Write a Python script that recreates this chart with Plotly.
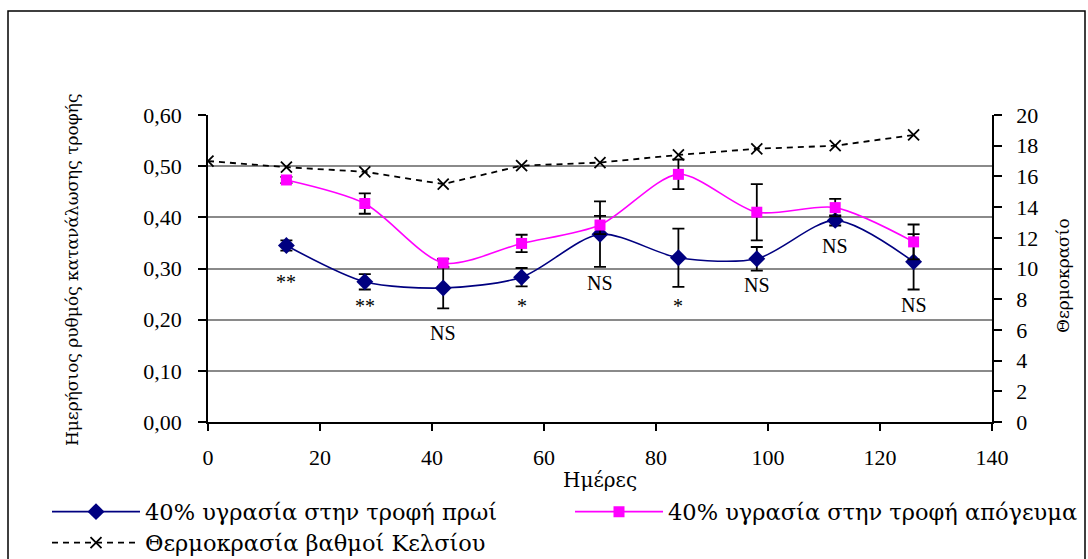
import plotly.graph_objects as go

# ---- data ----
days = [14, 28, 42, 56, 70, 84, 98, 112, 126]
morning = [0.345, 0.274, 0.262, 0.283, 0.367, 0.321, 0.319, 0.394, 0.313]
morning_err = [0.010, 0.015, 0.040, 0.018, 0.064, 0.057, 0.023, 0.010, 0.054]
evening = [0.473, 0.427, 0.311, 0.349, 0.385, 0.484, 0.410, 0.419, 0.352]
evening_err = [0.006, 0.020, 0.008, 0.017, 0.018, 0.029, 0.055, 0.017, 0.034]
temp_days = [0, 14, 28, 42, 56, 70, 84, 98, 112, 126]
temperature = [17.0, 16.6, 16.3, 15.5, 16.7, 16.9, 17.4, 17.8, 18.0, 18.7]
significance = ["**", "**", "NS", "*", "NS", "*", "NS", "NS", "NS"]

name_morning = "40% υγρασία στην τροφή πρωί"
name_evening = "40% υγρασία στην τροφή απόγευμα"
name_temp = "Θερμοκρασία βαθμοί Κελσίου"

# ---- layout helpers ----
W, H = 1088, 559
L, R, T, B = 208, 96, 115, 137
pw, ph = W - L - R, H - T - B


def px_x(p):
    return (p - L) / pw


def px_y(p):
    return (H - B - p) / ph


FONT = "Liberation Serif"      # digits / latin labels
GREEK = "DejaVu Serif"         # serif face with Greek coverage
sig_label_y = [0.273, 0.227, 0.174, 0.227, 0.271, 0.227, 0.268, 0.344, 0.229]

err_style = dict(type="data", color="black", thickness=1.8, width=6)

fig = go.Figure()
fig.add_trace(go.Scatter(
    x=days, y=morning, name=name_morning, mode="lines+markers",
    line=dict(color="#000080", width=1.6, shape="spline", smoothing=0.8),
    marker=dict(symbol="diamond", size=13, color="#000080"),
    error_y=dict(array=morning_err, **err_style),
    legend="legend",
))
fig.add_trace(go.Scatter(
    x=days, y=evening, name=name_evening, mode="lines+markers",
    line=dict(color="#FF00FF", width=1.6, shape="spline", smoothing=0.8),
    marker=dict(symbol="square", size=11, color="#FF00FF"),
    error_y=dict(array=evening_err, **err_style),
    legend="legend2",
))
fig.add_trace(go.Scatter(
    x=temp_days, y=temperature, name=name_temp, mode="lines+markers",
    line=dict(color="black", width=1.8, dash="6px,5px"),
    marker=dict(symbol="x-thin", size=11, line=dict(color="black", width=1.8)),
    yaxis="y2", legend="legend3",
))

annotations = [
    dict(x=d, y=y, text=s, xref="x", yref="y", showarrow=False,
         font=dict(family=FONT, size=20, color="black"))
    for d, y, s in zip(days, sig_label_y, significance)
]
title_common = dict(xref="paper", yref="paper", showarrow=False,
                    xanchor="center", yanchor="middle")
annotations += [
    dict(x=px_x(72), y=px_y(270), text="Ημερήσιος ρυθμός κατανάλωσης τροφής",
         textangle=-90, font=dict(family=GREEK, size=17, color="black"),
         **title_common),
    dict(x=px_x(1063), y=px_y(276), text="Θερμοκρασίο", textangle=-90,
         font=dict(family=GREEK, size=17, color="black"), **title_common),
    dict(x=0.5, y=px_y(480), text="Ημέρες",
         font=dict(family=GREEK, size=20, color="black"), **title_common),
]

legend_common = dict(orientation="h", xanchor="left", yanchor="middle",
                     bgcolor="rgba(0,0,0,0)", itemwidth=88,
                     font=dict(family=GREEK, size=22.5, color="black"))

fig.update_layout(
    width=W, height=H,
    margin=dict(l=L, r=R, t=T, b=B, pad=0, autoexpand=False),
    paper_bgcolor="white", plot_bgcolor="white",
    separators=", ",
    showlegend=True,
    font=dict(family=FONT, size=22, color="black"),
    xaxis=dict(range=[0, 140], dtick=20, tick0=0, showline=True, linecolor="black",
               linewidth=1.5, ticks="outside", ticklen=7, tickcolor="black",
               tickwidth=1.5, showgrid=False, zeroline=False, ticklabelstandoff=8,
               tickfont=dict(family=FONT, size=22)),
    yaxis=dict(range=[0, 0.6], dtick=0.1, tick0=0, tickformat=".2f",
               showline=True, linecolor="black", linewidth=1.5, ticks="outside",
               ticklen=8, tickcolor="black", tickwidth=1.5, showgrid=True,
               gridcolor="#8a8a8a", gridwidth=1.6, zeroline=False,
               ticklabelstandoff=12, tickfont=dict(family=FONT, size=22)),
    yaxis2=dict(range=[0, 20], dtick=2, tick0=0, overlaying="y", side="right",
                showline=True, linecolor="black", linewidth=1.5, ticks="outside",
                ticklen=8, tickcolor="black", tickwidth=1.5, showgrid=False,
                zeroline=False, ticklabelstandoff=10,
                tickfont=dict(family=FONT, size=22)),
    legend=dict(x=px_x(47), y=px_y(512), **legend_common),
    legend2=dict(x=px_x(570), y=px_y(512), **legend_common),
    legend3=dict(x=px_x(47), y=px_y(543), **legend_common),
    annotations=annotations,
    shapes=[dict(type="rect", xref="paper", yref="paper",
                 x0=px_x(8), x1=px_x(1085), y0=px_y(575), y1=px_y(11),
                 line=dict(color="black", width=1.5), layer="below")],
)

fig.write_html("out.html")
